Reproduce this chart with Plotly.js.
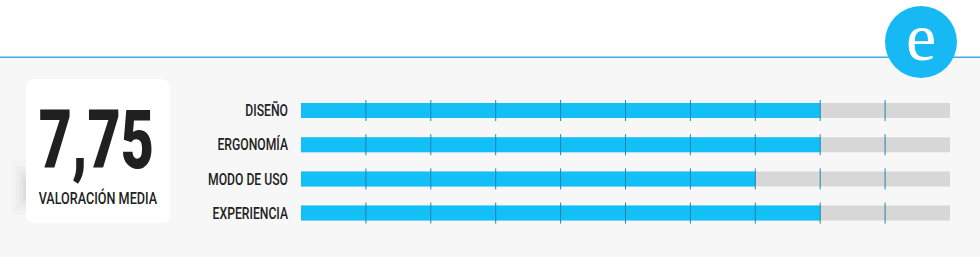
<!DOCTYPE html>
<html>
<head>
<meta charset="utf-8">
<script src="https://cdn.plot.ly/plotly-3.0.1.min.js"></script>
<style>
  html, body { margin: 0; padding: 0; background: #ffffff; }
  #chart { width: 980px; height: 257px; }
</style>
</head>
<body>
<div id="chart"></div>
<script>
// ---- data ----
const categories = ['DISEÑO', 'ERGONOMÍA', 'MODO DE USO', 'EXPERIENCIA'];
const scores = [8, 8, 7, 8];
const maxScore = 10;
const tickValues = [1, 2, 3, 4, 5, 6, 7, 8, 9];
const averageCaption = 'VALORACIÓN MEDIA';
const logoLetter = 'e';

// ---- derived ----
const average = scores.reduce((a, b) => a + b, 0) / scores.length;
const averageText = average.toFixed(2).replace('.', ',');

const W = 980, H = 257;
const px = v => v / W;
const py = v => 1 - v / H;

const LABEL_FONT = 'Roboto, "DejaVu Sans", sans-serif';
const BIG_FONT = 'Roboto, "DejaVu Sans", sans-serif';
const BLUE = '#12c0f7';
const GREY = '#d7d7d7';
const TICK = '#2384ab';

const tickX = [], tickY = [];
categories.forEach(c => tickValues.forEach(t => { tickX.push(t); tickY.push(c); }));

const traces = [
  {
    type: 'bar', orientation: 'h',
    x: categories.map(() => maxScore), y: categories,
    width: 0.44, marker: { color: GREY, line: { width: 0 } },
    hoverinfo: 'skip'
  },
  {
    type: 'bar', orientation: 'h',
    x: scores, y: categories,
    width: 0.44, marker: { color: BLUE, line: { width: 0 } },
    hoverinfo: 'skip'
  },
  {
    type: 'scatter', mode: 'markers',
    x: tickX, y: tickY,
    marker: { symbol: 'line-ns', size: 15, line: { color: TICK, width: 1 } },
    hoverinfo: 'skip'
  }
];

// rounded card path
function roundRect(x0, y0, x1, y1, r) {
  const rx = r / W, ry = r / H;
  const X0 = px(x0), X1 = px(x1), Y0 = py(y0), Y1 = py(y1);
  return `M${X0 + rx},${Y0} L${X1 - rx},${Y0} Q${X1},${Y0} ${X1},${Y0 - ry} ` +
         `L${X1},${Y1 + ry} Q${X1},${Y1} ${X1 - rx},${Y1} L${X0 + rx},${Y1} ` +
         `Q${X0},${Y1} ${X0},${Y1 + ry} L${X0},${Y0 - ry} Q${X0},${Y0} ${X0 + rx},${Y0} Z`;
}

const shapes = [
  { type: 'rect', xref: 'paper', yref: 'paper', x0: 0, x1: 1, y0: 0, y1: py(58),
    fillcolor: '#f7f7f7', line: { width: 0 }, layer: 'below' },
  // soft shadow left of card
  { type: 'rect', xref: 'paper', yref: 'paper', x0: px(12), x1: px(30), y0: py(215), y1: py(160),
    fillcolor: 'rgba(0,0,0,0.015)', line: { width: 0 }, layer: 'below' },
  { type: 'rect', xref: 'paper', yref: 'paper', x0: px(16), x1: px(30), y0: py(210), y1: py(166),
    fillcolor: 'rgba(0,0,0,0.022)', line: { width: 0 }, layer: 'below' },
  { type: 'rect', xref: 'paper', yref: 'paper', x0: px(20), x1: px(30), y0: py(205), y1: py(172),
    fillcolor: 'rgba(0,0,0,0.028)', line: { width: 0 }, layer: 'below' },
  { type: 'rect', xref: 'paper', yref: 'paper', x0: px(23), x1: px(30), y0: py(200), y1: py(178),
    fillcolor: 'rgba(0,0,0,0.035)', line: { width: 0 }, layer: 'below' },
  // white card
  { type: 'path', xref: 'paper', yref: 'paper', path: roundRect(26, 79, 170, 223, 9),
    fillcolor: '#ffffff', line: { width: 0 }, layer: 'below' },
  // header line
  { type: 'rect', xref: 'paper', yref: 'paper', x0: 0, x1: 1, y0: py(58), y1: py(56.5),
    fillcolor: '#3aaee0', line: { width: 0 }, layer: 'below' },
  // logo circle
  { type: 'circle', xref: 'paper', yref: 'paper', x0: px(885), x1: px(957), y0: py(78), y1: py(6),
    fillcolor: '#17b9f4', line: { width: 0 }, layer: 'above' }
];

const annotations = [
  { xref: 'paper', yref: 'paper', x: px(96.5), y: py(140), xanchor: 'center', yanchor: 'middle',
    text: averageText, showarrow: false,
    font: { family: BIG_FONT, size: 81, weight: 900, color: '#202020' } },
  { xref: 'paper', yref: 'paper', x: px(97.5), y: py(198), xanchor: 'center', yanchor: 'middle',
    text: averageCaption, showarrow: false,
    font: { family: LABEL_FONT, size: 17, weight: 500, color: '#222222' } },
  { xref: 'paper', yref: 'paper', x: px(921), y: py(37), xanchor: 'center', yanchor: 'middle',
    text: logoLetter, showarrow: false,
    font: { family: '"Liberation Serif", "DejaVu Serif", serif', size: 68, color: '#ffffff' } }
];

const layout = {
  width: W, height: H,
  margin: { l: 0, r: 0, t: 0, b: 0, pad: 0 },
  paper_bgcolor: '#ffffff',
  plot_bgcolor: 'rgba(0,0,0,0)',
  showlegend: false,
  barmode: 'overlay',
  xaxis: { domain: [301 / W, 950 / W], range: [0, maxScore], visible: false, fixedrange: true },
  yaxis: {
    domain: [1 - 230.2 / H, 1 - 93.4 / H],
    type: 'category', categoryorder: 'array', categoryarray: categories,
    range: [3.5, -0.5],
    showgrid: false, zeroline: false, showline: false, ticks: '',
    ticklabelstandoff: 12,
    tickfont: { family: LABEL_FONT, size: 16.5, weight: 500, color: '#222222' },
    fixedrange: true
  },
  shapes: shapes,
  annotations: annotations
};

// horizontally condense a text element (the reference uses a condensed face)
function squeeze(el, s, anchor) {
  const bb = el.getBBox();
  const ax = anchor === 'end' ? bb.x + bb.width : bb.x + bb.width / 2;
  const prev = el.getAttribute('transform') || '';
  el.setAttribute('transform', `${prev} translate(${ax},0) scale(${s},1) translate(${-ax},0)`);
}

Plotly.newPlot('chart', traces, layout, { displayModeBar: false, staticPlot: true }).then(gd => {
  const ann = gd.querySelectorAll('.annotation-text');
  if (ann[0]) squeeze(ann[0], 115 / ann[0].getBBox().width, 'middle');
  if (ann[1]) squeeze(ann[1], 119 / ann[1].getBBox().width, 'middle');
  const labels = Array.from(gd.querySelectorAll('.yaxislayer-above .ytick text'));
  const ref = labels.find(t => t.textContent === 'MODO DE USO');
  const s = ref ? 80 / ref.getBBox().width : 0.75;
  labels.forEach(t => squeeze(t, s, 'end'));
});
</script>
</body>
</html>
